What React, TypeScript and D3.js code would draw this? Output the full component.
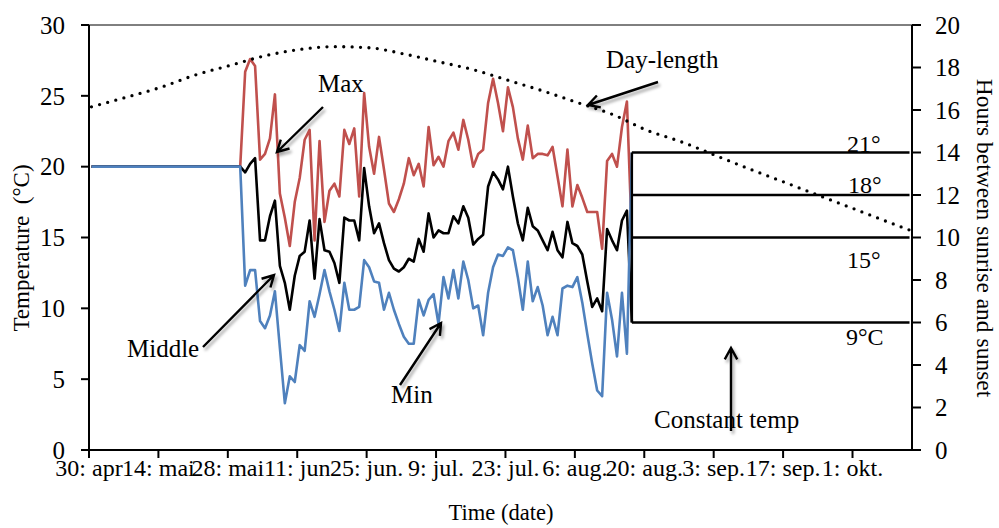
import React from "react";
import * as d3 from "d3";

// ---------- data ----------
const tickLabels = ["30: apr", "14: mai", "28: mai", "11: jun", "25: jun.", "9: jul.", "23: jul.", "6: aug.", "20: aug.", "3: sep.", "17: sep.", "1: okt."];
const tickEveryDays = 14;
const axisDays = 166;

const warmupTemp = 20;
const warmupEndDay = 30;
const firstMeasuredDay = 31;

const maxTemp = [
  26.7, 27.6, 27.1, 20.5, 20.9, 22.0, 25.1, 18.1, 16.4, 14.4,
  17.5, 19.2, 21.9, 22.6, 14.8, 21.8, 16.1, 18.3, 18.8, 17.9,
  22.6, 21.6, 22.7, 17.9, 25.2, 21.4, 19.5, 22.1, 19.8, 17.4,
  16.8, 17.7, 18.8, 20.6, 19.4, 20.2, 18.6, 22.8, 20.1, 20.7,
  20.0, 21.8, 22.4, 21.2, 23.3, 21.9, 20.0, 20.9, 21.2, 24.5,
  26.2, 24.5, 22.5, 25.6, 24.2, 22.0, 20.5, 22.9, 20.6, 20.9,
  20.9, 20.8, 21.4, 19.3, 17.2, 21.2, 17.2, 18.7, 17.8, 16.8,
  16.8, 16.8, 14.2, 20.4, 20.9, 20.0, 22.8, 24.6,
];
const midTemp = [
  19.6, 20.2, 20.6, 14.8, 14.8, 16.5, 17.6, 13.0, 11.8, 9.9,
  12.3, 13.7, 14.0, 16.2, 12.1, 16.3, 14.1, 14.0, 13.2, 11.8,
  16.4, 16.2, 16.2, 14.8, 19.9, 17.2, 15.3, 16.0, 14.6, 13.4,
  12.8, 12.6, 12.9, 13.5, 13.3, 14.9, 14.0, 16.7, 15.0, 15.5,
  15.3, 15.3, 16.5, 16.0, 17.2, 16.4, 14.5, 14.9, 15.2, 18.6,
  19.6, 19.1, 18.4, 20.0, 17.9, 16.0, 14.8, 17.1, 15.8, 15.5,
  14.8, 14.1, 15.4, 14.1, 13.6, 16.1, 14.6, 14.4, 13.8, 11.9,
  10.1, 10.7, 9.8, 15.6, 14.8, 14.1, 16.2, 16.9,
];
const minTemp = [
  11.6, 12.7, 12.7, 9.1, 8.6, 9.5, 11.2, 7.2, 3.3, 5.2,
  4.8, 7.4, 7.0, 10.5, 9.4, 11.0, 12.7, 11.2, 9.9, 8.4,
  11.8, 9.9, 9.9, 10.1, 13.4, 12.9, 11.9, 11.8, 9.9, 11.1,
  9.9, 8.9, 8.0, 7.5, 7.5, 10.6, 9.5, 10.6, 11.0, 8.9,
  12.2, 10.7, 12.7, 10.7, 13.3, 12.0, 10.0, 10.2, 8.1, 11.1,
  12.9, 13.8, 13.7, 14.3, 14.1, 12.2, 9.9, 13.3, 10.5, 11.5,
  10.2, 8.1, 9.4, 8.1, 11.4, 11.6, 11.5, 12.2, 10.4, 8.2,
  6.1, 4.2, 3.8, 11.1, 9.2, 6.6, 11.1, 6.8,
];

const constantStartDay = 109;
const constantEndDay = 165;
const constantTemps = [21, 18, 15, 9];
const constantLabels = ["21°", "18°", "15°", "9°C"];
const jumpMax = 15;
const jumpMid = 9;
const jumpMin = 21;

const dayLengthDays = [0, 7, 14, 21, 28, 35, 42, 49, 56, 63, 70, 77, 84, 91, 98, 105, 112, 119, 126, 133, 140, 147, 154, 161, 165];
const dayLengthHours = [16.15, 16.6, 17.07, 17.65, 18.1, 18.55, 18.85, 18.98, 18.93, 18.64, 18.27, 17.9, 17.4, 16.9, 16.35, 15.8, 15.05, 14.5, 13.85, 13.2, 12.58, 11.95, 11.33, 10.7, 10.35];

const leftTicks = [0, 5, 10, 15, 20, 25, 30];
const rightTicks = [0, 2, 4, 6, 8, 10, 12, 14, 16, 18, 20];

// ---------- layout ----------
const W = 999;
const H = 528;
const L = 89;
const R = 912;
const T = 25;
const B = 450;
const FONT = "'Liberation Serif', 'Times New Roman', serif";
const RED = "#C0504D";
const BLUE = "#4F81BD";

const x = d3.scaleLinear().domain([0, axisDays]).range([L, R]);
const px = (d: number) => x(d + 0.5);
const y = d3.scaleLinear().domain([0, 30]).range([B, T]);
const y2 = d3.scaleLinear().domain([0, 20]).range([B, T]);

type P = [number, number];
const buildSeries = (vals: number[], jump: number): P[] => [
  [0, warmupTemp],
  [warmupEndDay, warmupTemp],
  ...vals.map((v, i) => [firstMeasuredDay + i, v] as P),
  [constantStartDay, jump],
];

const tempLine = d3
  .line<P>()
  .x((p) => px(p[0]))
  .y((p) => y(p[1]));

const dayLine = d3
  .line<P>()
  .x((p) => px(p[0]))
  .y((p) => y2(p[1]))
  .curve(d3.curveMonotoneX);

function arrow(x1: number, y1: number, x2: number, y2_: number, len = 13, ang = 0.5) {
  const a = Math.atan2(y2_ - y1, x2 - x1);
  const ax = x2 - len * Math.cos(a - ang);
  const ay = y2_ - len * Math.sin(a - ang);
  const bx = x2 - len * Math.cos(a + ang);
  const by = y2_ - len * Math.sin(a + ang);
  return `M${x1},${y1}L${x2},${y2_}M${ax},${ay}L${x2},${y2_}L${bx},${by}`;
}

const annotations = [
  { text: "Max", x: 318, y: 92 },
  { text: "Middle", x: 127, y: 357 },
  { text: "Min", x: 391, y: 403 },
  { text: "Day-length", x: 606, y: 68 },
  { text: "Constant temp", x: 654, y: 428 },
];
const arrows = [
  [323, 107, 277, 152],
  [203, 347, 274, 275],
  [400, 385, 441, 323],
  [658, 82, 588, 105],
  [731, 431, 731, 348],
];
const constantLabelPos = [
  { x: 847, y: 152 },
  { x: 848, y: 193 },
  { x: 847, y: 268 },
  { x: 846, y: 345 },
];

export default function App() {
  const bottomTicks = tickLabels.map((_, i) => i * tickEveryDays);
  const series = [
    { data: buildSeries(maxTemp, jumpMax), color: RED },
    { data: buildSeries(midTemp, jumpMid), color: "#000" },
    { data: buildSeries(minTemp, jumpMin), color: BLUE },
  ];
  const dayData: P[] = dayLengthDays.map((d, i) => [d, dayLengthHours[i]]);
  const cMin = d3.min(constantTemps) as number;
  const cMax = d3.max(constantTemps) as number;

  return (
    <svg
      width={W}
      height={H}
      viewBox={`0 0 ${W} ${H}`}
      style={{ position: "absolute", left: 0, top: 0, display: "block", background: "#fff" }}
      fontFamily={FONT}
    >
      <defs>
        <filter id="shadow" x="-30%" y="-30%" width="160%" height="160%">
          <feDropShadow dx="2" dy="3" stdDeviation="1.8" floodColor="#000" floodOpacity="0.35" />
        </filter>
      </defs>

      {/* top border */}
      <line x1={L} x2={R} y1={T} y2={T} stroke="#000" strokeWidth={1} />

      {/* temperature series */}
      {series.map((s, i) => (
        <path key={i} d={tempLine(s.data) || ""} fill="none" stroke={s.color} strokeWidth={2.6} strokeLinejoin="round" />
      ))}

      {/* constant temperature lines */}
      {constantTemps.map((t, i) => (
        <line key={i} x1={px(constantStartDay)} x2={px(constantEndDay)} y1={y(t)} y2={y(t)} stroke="#000" strokeWidth={2.4} />
      ))}
      <line x1={px(constantStartDay)} x2={px(constantStartDay)} y1={y(cMin)} y2={y(cMax)} stroke="#000" strokeWidth={2.4} />

      {/* day length */}
      <path d={dayLine(dayData) || ""} fill="none" stroke="#000" strokeWidth={3.3} strokeDasharray="0 8.4" strokeLinecap="round" />

      {/* axes */}
      <g stroke="#000" strokeWidth={2}>
        <line x1={L} x2={L} y1={T} y2={B} />
        <line x1={R} x2={R} y1={T} y2={B} />
        <line x1={L - 8} x2={R} y1={B} y2={B} />
        {leftTicks.map((t) => (
          <line key={"l" + t} x1={L - 8} x2={L} y1={y(t)} y2={y(t)} />
        ))}
        {rightTicks.map((t) => (
          <line key={"r" + t} x1={R} x2={R + 9} y1={y2(t)} y2={y2(t)} />
        ))}
        {bottomTicks.map((d) => (
          <line key={"b" + d} x1={x(d)} x2={x(d)} y1={B} y2={B + 8} />
        ))}
      </g>

      {/* tick labels */}
      <g fontSize={25} fill="#000">
        {leftTicks.map((t) => (
          <text key={"lt" + t} x={65} y={y(t)} dy="0.35em" textAnchor="end">
            {t}
          </text>
        ))}
        {rightTicks.map((t) => (
          <text key={"rt" + t} x={935} y={y2(t)} dy="0.35em" textAnchor="start">
            {t}
          </text>
        ))}
      </g>
      <g fontSize={24} fill="#000">
        {bottomTicks.map((d, i) => (
          <text key={"bt" + d} x={x(d)} y={476} textAnchor="middle">
            {tickLabels[i]}
          </text>
        ))}
      </g>

      {/* axis titles */}
      <text x={501} y={520} fontSize={22.5} textAnchor="middle">Time (date)</text>
      <text transform="translate(29,248) rotate(-90)" fontSize={23} textAnchor="middle" style={{ whiteSpace: "pre" }}>
        {"Temperature  (°C)"}
      </text>
      <text transform="translate(977,238) rotate(90)" fontSize={23.5} textAnchor="middle">
        Hours between sunrise and sunset
      </text>

      {/* annotations */}
      <g fontSize={25} fill="#000">
        {annotations.map((a) => (
          <text key={a.text} x={a.x} y={a.y}>
            {a.text}
          </text>
        ))}
        {constantLabels.map((c, i) => (
          <text key={c} x={constantLabelPos[i].x} y={constantLabelPos[i].y} fontSize={24}>
            {c}
          </text>
        ))}
      </g>
      <g filter="url(#shadow)" fill="none" stroke="#000" strokeWidth={2.4}>
        {arrows.map((a, i) => (
          <path key={i} d={arrow(a[0], a[1], a[2], a[3])} />
        ))}
      </g>
    </svg>
  );
}
